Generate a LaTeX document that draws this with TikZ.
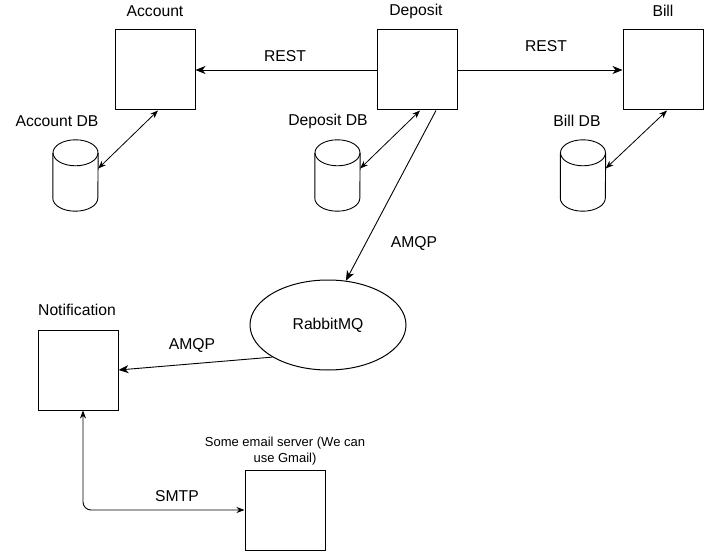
\documentclass[tikz,border=0pt]{standalone}
\usepackage{fontspec}
\setmainfont{Liberation Sans}
\usetikzlibrary{shapes.geometric,arrows.meta}

\begin{document}
\begin{tikzpicture}
  [x=1pt,y=-1pt,every node/.style={font=\fontsize{15.7}{18}\selectfont},
   box/.style={draw,line width=1pt,minimum size=80pt,inner sep=0pt},
   db/.style={minimum width=45pt,minimum height=71pt,inner sep=0pt},
   link/.style={line width=0.9pt,-{Stealth[length=10pt,width=8pt,inset=3pt]}},
   dblink/.style={line width=0.8pt,{Stealth[length=8pt,width=6pt,inset=2.5pt]}-{Stealth[length=8pt,width=6pt,inset=2.5pt]}}]
  \useasboundingbox (0,0) rectangle (721,551);
  % services
  \node[box] (acc) at (155,70) {};
  \node[box] (dep) at (417,70) {};
  \node[box] (bill) at (663,70) {};
  \node[box] (notif) at (78,370) {};
  \node[box] (mail) at (285,510) {};
  \node (accl) at (155,11) {Account};
  \node (depl) at (416,11) {Deposit};
  \node (billl) at (663,11) {Bill};
  \node (notifl) at (77,310) {Notification};
  \node[align=center,font=\fontsize{13}{15.5}\selectfont] (maill) at (285,451) {Some email server (We can\\use Gmail)};
  % databases
  \node[db] (accdb) at (75.5,175.5) {};
  \node[db] (depdb) at (337.5,175.5) {};
  \node[db] (billdb) at (583,175.5) {};
  \foreach \db in {accdb,depdb,billdb} {
    \draw[line width=0.9pt] ([yshift=-13pt]\db.north west) -- ([yshift=13pt]\db.south west)
      arc[start angle=180,end angle=360,x radius=22.5pt,y radius=13pt] -- ([yshift=-13pt]\db.north east);
    \draw[line width=0.9pt] ([yshift=-13pt]\db.north) ellipse[x radius=22.5pt,y radius=13pt];
  }
  \node (accdbl) at (57,121) {Account DB};
  \node (depdbl) at (328,121) {Deposit DB};
  \node (billdbl) at (577,121) {Bill DB};
  % broker
  \node[draw,line width=1pt,ellipse,minimum width=156pt,minimum height=90pt,inner sep=0pt] (rabbit) at (328,325) {RabbitMQ};

  \draw[link] (dep.west) -- (acc.east);
  \draw[link] (dep.east) -- (bill.west);
  \node (rest1) at (285,56) {REST};
  \node (rest2) at (546,46) {REST};
  \foreach \db/\svc/\dx in {accdb/acc/3, depdb/dep/3, billdb/bill/4}
    \draw[dblink] ([yshift=7pt]\db.east) -- ([xshift=\dx pt]\svc.south);
  \draw[link] ([xshift=19pt]dep.south) -- (rabbit.68);
  \node (amqp1) at (414,244) {AMQP};
  \draw[link] (rabbit.210) -- (notif.east);
  \node (amqp2) at (192,346) {AMQP};
  \draw[dblink,line width=0.9pt,rounded corners=8pt] ([xshift=5pt]notif.south) |- (mail.west);
  \node (smtp) at (177,496) {SMTP};
\end{tikzpicture}
\end{document}
